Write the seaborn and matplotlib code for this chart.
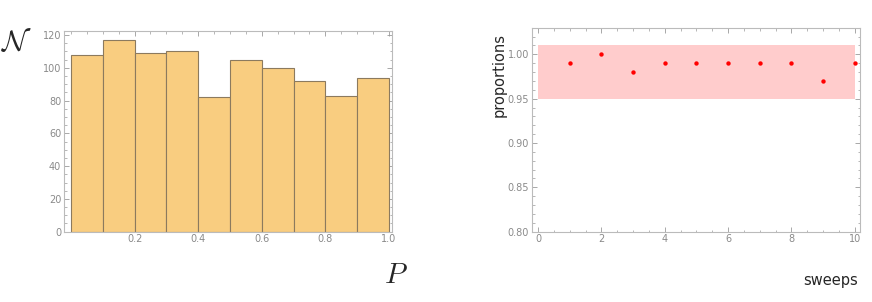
"""
Histogram of P and per-sweep proportions (two panels).
"""

import matplotlib

matplotlib.use("Agg")
import matplotlib.pyplot as plt
import numpy as np
import pandas as pd
import seaborn as sns
from matplotlib.ticker import MultipleLocator

# histogram bins and counts
bin_edges = [0.0, 0.1, 0.2, 0.3, 0.4, 0.5, 0.6, 0.7, 0.8, 0.9, 1.0]
bin_counts = [108, 117, 109, 110, 82, 105, 100, 92, 83, 94]

# proportions per sweep
sweeps = [1, 2, 3, 4, 5, 6, 7, 8, 9, 10]
proportions = [0.99, 1.00, 0.98, 0.99, 0.99, 0.99, 0.99, 0.99, 0.97, 0.99]
band_low, band_high = 0.95, 1.01
band_x = [0, 10]

FRAME = "#bbbbbb"
TICK = "#9a9a9a"
LABEL = "#8a8a8a"


def style_frame(ax):
    for s in ax.spines.values():
        s.set_color(FRAME)
        s.set_linewidth(0.8)
    ax.tick_params(which="both", direction="in", bottom=True, left=True,
                   top=True, right=True, color=TICK, labelcolor=LABEL,
                   labelsize=7, pad=2)
    ax.tick_params(which="major", length=3.5, width=0.6)
    ax.tick_params(which="minor", length=1.8, width=0.5)
    ax.set_xlabel("")
    ax.set_ylabel("")


sns.set_style("white")
plt.rcParams["mathtext.fontset"] = "cm"

fig = plt.figure(figsize=(8.72, 3.02), dpi=100)
ax1 = fig.add_axes([0.0734, 0.2328, 0.3761, 0.6646])
ax2 = fig.add_axes([0.6098, 0.2328, 0.3765, 0.6735])

# left: histogram
centers = (np.array(bin_edges[:-1]) + np.array(bin_edges[1:])) / 2
hist_df = pd.DataFrame({"P": centers, "count": bin_counts})
sns.histplot(data=hist_df, x="P", weights="count", bins=bin_edges, ax=ax1,
             color="#f9cd80", edgecolor="#8c7a5e", linewidth=0.8, alpha=1)
ax1.set_xlim(-0.022, 1.0094)
ax1.set_ylim(0, 122.4)
ax1.xaxis.set_minor_locator(MultipleLocator(0.05))
ax1.yaxis.set_major_locator(MultipleLocator(20))
ax1.yaxis.set_minor_locator(MultipleLocator(5))
ax1.set_xticks([0.2, 0.4, 0.6, 0.8, 1.0])
ax1.set_xticklabels(["0.2", "0.4", "0.6", "0.8", "1.0"])
style_frame(ax1)

fig.text(17 / 872, 1 - 43 / 302, r"$\mathcal{N}$", fontsize=21,
         ha="center", va="center")
fig.text(396 / 872, 1 - 275 / 302, r"$P$", fontsize=21,
         ha="center", va="center")

# right: proportions per sweep
ax2.fill_between(band_x, band_low, band_high, color="#ffcccc", linewidth=0)
prop_df = pd.DataFrame({"sweeps": sweeps, "proportions": proportions})
sns.scatterplot(data=prop_df, x="sweeps", y="proportions", ax=ax2,
                color="#ff0000", s=10, linewidth=0, zorder=3)
ax2.set_xlim(-0.2, 10.17)
ax2.set_ylim(0.80, 1.0293)
ax2.xaxis.set_major_locator(MultipleLocator(2))
ax2.xaxis.set_minor_locator(MultipleLocator(0.5))
ax2.set_yticks([0.80, 0.85, 0.90, 0.95, 1.00])
ax2.set_yticklabels(["0.80", "0.85", "0.90", "0.95", "1.00"])
ax2.yaxis.set_minor_locator(MultipleLocator(0.01))
style_frame(ax2)

fig.text(499 / 872, 1 - 75 / 302, "proportions", fontsize=10.5,
         rotation=90, ha="center", va="center")
fig.text(831 / 872, 1 - 280 / 302, "sweeps", fontsize=10.5,
         ha="center", va="center")

fig.savefig("out.png", dpi=100)
plt.close(fig)
